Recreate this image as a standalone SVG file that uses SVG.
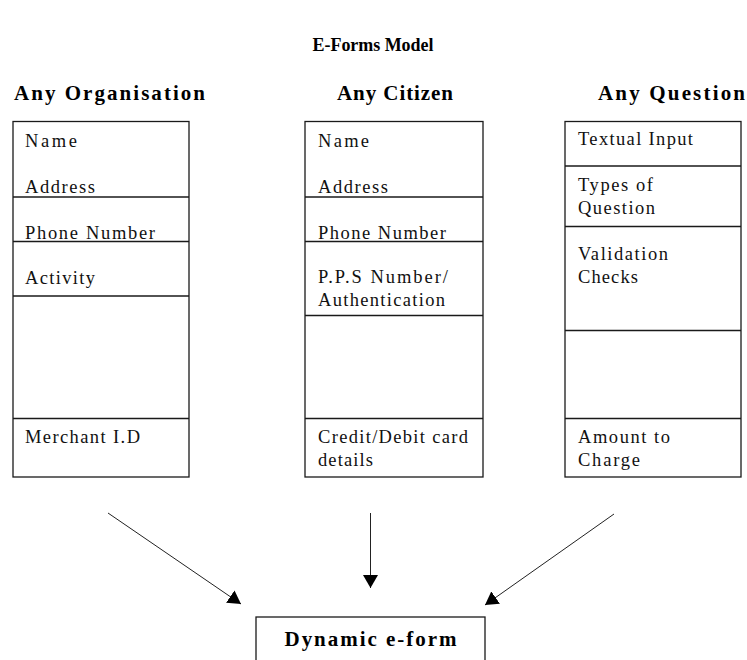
<svg xmlns="http://www.w3.org/2000/svg" width="747" height="660" viewBox="0 0 747 660">
<style>
.bg{fill:#fff}
.box{fill:#fff;stroke:#1a1a1a;stroke-width:1.3}
.div{stroke:#1a1a1a;stroke-width:1.3;fill:none}
.t{font-family:"Liberation Serif","Times New Roman",serif;font-size:18.5px;fill:#111}
.h{font-family:"Liberation Serif","Times New Roman",serif;font-size:21px;font-weight:bold;fill:#000}
.ttl{font-family:"Liberation Serif","Times New Roman",serif;font-size:18px;font-weight:bold;fill:#000}
.conn{stroke:#222;stroke-width:1;fill:none}
</style>
<defs>
<marker id="ah" viewBox="0 0 13 15" refX="13" refY="7.5" markerWidth="13" markerHeight="15" markerUnits="userSpaceOnUse" orient="auto">
<path d="M0,0 L13,7.5 L0,15 z" fill="#000"/>
</marker>
</defs>
<rect class="bg" x="0" y="0" width="747" height="660"/>
<text class="ttl" x="373" y="51" text-anchor="middle" textLength="121" lengthAdjust="spacing">E-Forms Model</text>

<g id="organisation">
<text class="h" x="14" y="100" textLength="191" lengthAdjust="spacing">Any Organisation</text>
<rect class="box" x="13" y="121.5" width="176" height="355.5"/>
<line class="div" x1="13" y1="197" x2="189" y2="197"/>
<line class="div" x1="13" y1="241.5" x2="189" y2="241.5"/>
<line class="div" x1="13" y1="296" x2="189" y2="296"/>
<line class="div" x1="13" y1="418.5" x2="189" y2="418.5"/>
<text class="t" x="25" y="146.5" textLength="52" lengthAdjust="spacing">Name</text>
<text class="t" x="25" y="192.5" textLength="70" lengthAdjust="spacing">Address</text>
<text class="t" x="25" y="238.5" textLength="130" lengthAdjust="spacing">Phone Number</text>
<text class="t" x="25" y="284" textLength="70" lengthAdjust="spacing">Activity</text>
<text class="t" x="25" y="443" textLength="115" lengthAdjust="spacing">Merchant I.D</text>
</g>

<g id="citizen">
<text class="h" x="337" y="100" textLength="116" lengthAdjust="spacing">Any Citizen</text>
<rect class="box" x="305" y="121.5" width="178" height="355.5"/>
<line class="div" x1="305" y1="197" x2="483" y2="197"/>
<line class="div" x1="305" y1="241.5" x2="483" y2="241.5"/>
<line class="div" x1="305" y1="315.5" x2="483" y2="315.5"/>
<line class="div" x1="305" y1="418.5" x2="483" y2="418.5"/>
<text class="t" x="318" y="146.5" textLength="51" lengthAdjust="spacing">Name</text>
<text class="t" x="318" y="192.5" textLength="70" lengthAdjust="spacing">Address</text>
<text class="t" x="318" y="238.5" textLength="128" lengthAdjust="spacing">Phone Number</text>
<text class="t" x="318" y="283" textLength="130" lengthAdjust="spacing">P.P.S Number/</text>
<text class="t" x="318" y="305.5" textLength="127" lengthAdjust="spacing">Authentication</text>
<text class="t" x="318" y="443" textLength="150" lengthAdjust="spacing">Credit/Debit card</text>
<text class="t" x="318" y="466" textLength="55" lengthAdjust="spacing">details</text>
</g>

<g id="question">
<text class="h" x="598" y="100" textLength="147" lengthAdjust="spacing">Any Question</text>
<rect class="box" x="565" y="121.5" width="176" height="355.5"/>
<line class="div" x1="565" y1="166" x2="741" y2="166"/>
<line class="div" x1="565" y1="226.5" x2="741" y2="226.5"/>
<line class="div" x1="565" y1="330.5" x2="741" y2="330.5"/>
<line class="div" x1="565" y1="418.5" x2="741" y2="418.5"/>
<text class="t" x="578" y="145" textLength="115" lengthAdjust="spacing">Textual Input</text>
<text class="t" x="578" y="191" textLength="75" lengthAdjust="spacing">Types of</text>
<text class="t" x="578" y="214" textLength="77" lengthAdjust="spacing">Question</text>
<text class="t" x="578" y="260" textLength="90" lengthAdjust="spacing">Validation</text>
<text class="t" x="578" y="283" textLength="60" lengthAdjust="spacing">Checks</text>
<text class="t" x="578" y="443" textLength="92" lengthAdjust="spacing">Amount to</text>
<text class="t" x="578" y="466" textLength="62" lengthAdjust="spacing">Charge</text>
</g>

<g id="dynamic">
<rect class="box" x="256" y="617" width="229" height="60"/>
<text class="h" x="370.5" y="646" text-anchor="middle" font-size="21.5" textLength="172" lengthAdjust="spacing">Dynamic e-form</text>
</g>

<g id="connectors">
<line class="conn" x1="108" y1="513" x2="241" y2="604" marker-end="url(#ah)"/>
<line class="conn" x1="370.5" y1="513" x2="370.5" y2="588" marker-end="url(#ah)"/>
<line class="conn" x1="614" y1="514" x2="485" y2="605" marker-end="url(#ah)"/>
</g>
</svg>
